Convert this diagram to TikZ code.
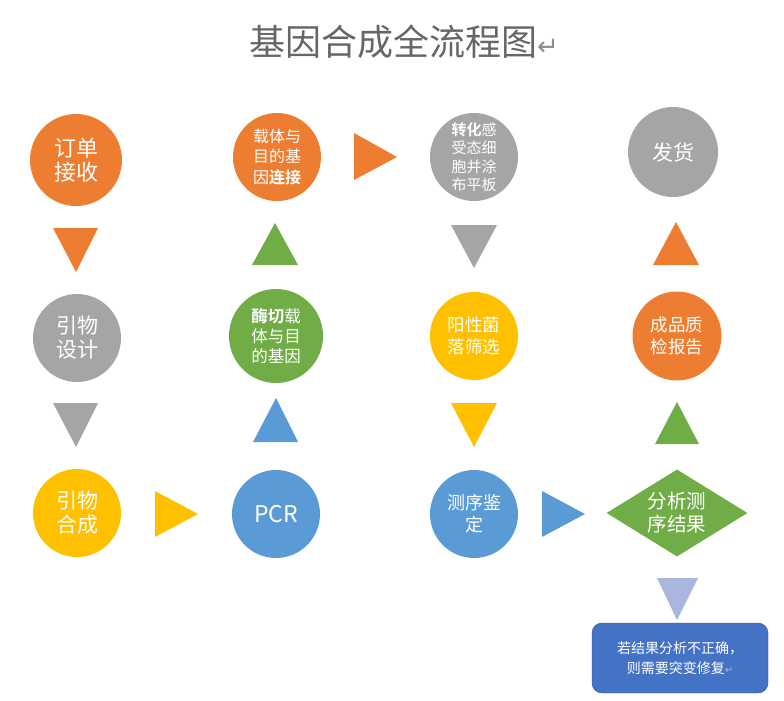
\documentclass[tikz,border=0pt]{standalone}
\usepackage{fontspec}
\newfontfamily\cjk[BoldFont={Noto Sans CJK SC Bold}]{Noto Sans CJK SC}
\newfontfamily\sym{DejaVu Sans}
\usetikzlibrary{shapes.geometric}
\definecolor{orangeF}{HTML}{ED7D31}
\definecolor{grayF}{HTML}{A5A5A5}
\definecolor{yellowF}{HTML}{FFC000}
\definecolor{blueF}{HTML}{5B9BD5}
\definecolor{greenF}{HTML}{70AD47}
\definecolor{boxBlue}{HTML}{4472C4}
\definecolor{boxLine}{HTML}{2F528F}
\definecolor{paleBlue}{HTML}{A9B6DD}
\definecolor{titleGray}{HTML}{666666}
\definecolor{retGray}{HTML}{8C8C8C}

\begin{document}
\begin{tikzpicture}[x=1pt,y=-1pt,
  every node/.style={font=\cjk, text=white, align=center, inner sep=0pt},
  circ/.style={circle, minimum size=88pt}]
  \useasboundingbox (0,0) rectangle (784,701);

  % Title
  \node[text=titleGray, font=\cjk\fontsize{36}{40}\selectfont] (title) at (404,42)
    {基因合成全流程图{\sym\fontsize{26}{26}\selectfont\color{retGray}↵}};

  % First row
  \node[circ, minimum size=92pt, fill=orangeF, font=\cjk\fontsize{22}{24}\selectfont] (order) at (76,160) {订单\\接收};
  \node[circ, fill=orangeF, font=\cjk\fontsize{16}{20.5}\selectfont] (ligate) at (277,157) {载体与\\目的基\\因\textbf{连接}};
  \node[circ, fill=grayF, font=\cjk\fontsize{15}{18.5}\selectfont] (transform) at (474,157) {\textbf{转化}感\\受态细\\胞并涂\\布平板};
  \node[circ, minimum size=90pt, fill=grayF, font=\cjk\fontsize{21}{24}\selectfont] (ship) at (673,152) {发货};

  % Second row
  \node[circ, fill=grayF, font=\cjk\fontsize{21}{24}\selectfont] (design) at (77,338) {引物\\设计};
  \node[circ, minimum size=94pt, fill=greenF, font=\cjk\fontsize{16.5}{20}\selectfont] (digest) at (276,336) {\textbf{酶切}载\\体与目\\的基因};
  \node[circ, fill=yellowF, font=\cjk\fontsize{17.5}{22}\selectfont] (screen) at (474,336) {阳性菌\\落筛选};
  \node[circ, minimum size=89pt, fill=orangeF, font=\cjk\fontsize{17.5}{22}\selectfont] (qc) at (677,336) {成品质\\检报告};

  % Third row
  \node[circ, fill=yellowF, font=\cjk\fontsize{21}{24}\selectfont] (synth) at (77,513) {引物\\合成};
  \node[circ, fill=blueF, font=\cjk\fontsize{23}{24}\selectfont] (pcr) at (276,514) {PCR};
  \node[circ, fill=blueF, font=\cjk\fontsize{18}{22}\selectfont] (seq) at (474,514) {测序鉴\\定};
  \node[diamond, fill=greenF, aspect=1.62, minimum width=141pt, minimum height=87pt,
        font=\cjk\fontsize{19.5}{23}\selectfont] (analyse) at (677,513) {分析测\\序结果};

  % Result box
  \node[draw=boxLine, fill=boxBlue, rounded corners=10pt, minimum width=176pt, minimum height=70pt,
        font=\cjk\fontsize{14}{20}\selectfont] (repair) at (680,658)
    {若结果分析不正确，\\则需要突变修复{\sym\fontsize{10}{10}\selectfont\color{paleBlue}↵}};

  % Triangles
  \fill[orangeF] (53,228) -- (98,228) -- (76,272) -- cycle;
  \fill[grayF] (53,403) -- (98,403) -- (76,447) -- cycle;
  \fill[yellowF] (155,491) -- (155,537) -- (198,514) -- cycle;
  \fill[blueF] (253,442) -- (298,442) -- (276,398) -- cycle;
  \fill[greenF] (252,265) -- (298,265) -- (275,223) -- cycle;
  \fill[orangeF] (354,133) -- (354,180) -- (397,157) -- cycle;
  \fill[grayF] (451,225) -- (497,225) -- (474,268) -- cycle;
  \fill[yellowF] (451,403) -- (497,403) -- (474,447) -- cycle;
  \fill[blueF] (542,491) -- (542,537) -- (585,514) -- cycle;
  \fill[greenF] (655,444) -- (699,444) -- (677,402) -- cycle;
  \fill[orangeF] (653,265) -- (699,265) -- (676,222) -- cycle;
  \fill[paleBlue] (657,578) -- (698,578) -- (677,620) -- cycle;

\end{tikzpicture}
\end{document}
